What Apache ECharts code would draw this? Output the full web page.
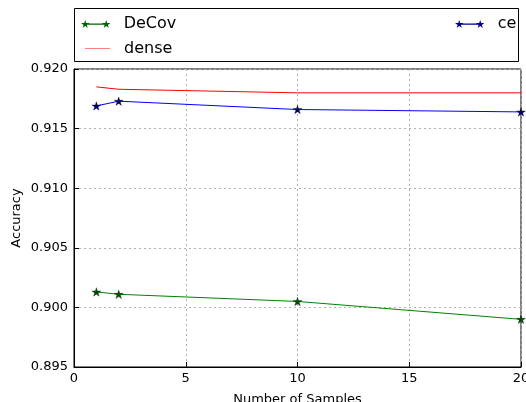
<!DOCTYPE html>
<html>
<head>
<meta charset="utf-8">
<script src="https://cdn.jsdelivr.net/npm/echarts@6/dist/echarts.min.js"></script>
<style>
  html, body { margin: 0; padding: 0; background: #fff; }
  #chart { width: 526px; height: 402px; }
</style>
</head>
<body>
<div id="chart"></div>
<script>
// data
const samples = [1, 2, 10, 20];
const decov = [0.9013, 0.9011, 0.9005, 0.8990];
const ce = [0.9169, 0.9173, 0.9166, 0.9164];
const dense = [0.9185, 0.9183, 0.9180, 0.9180];
const yTicks = ['0.895', '0.900', '0.905', '0.910', '0.915', '0.920'];

const font = 'DejaVu Sans';
// star marker
const starD = 'M10 0 L12.245 6.91 L19.51 6.91 L13.63 11.18 L15.88 18.09 L10 13.82 L4.12 18.09 L6.37 11.18 L0.49 6.91 L7.755 6.91 Z';
const star = 'path://' + starD;
// legend icon: star - line - star
const starLine = 'path://' + starD +
  ' M57.5 0 L59.745 6.91 L67.01 6.91 L61.13 11.18 L63.38 18.09 L57.5 13.82 L51.62 18.09 L53.87 11.18 L47.99 6.91 L55.255 6.91 Z' +
  ' M10 7.9 L57.5 7.9 L57.5 10.9 L10 10.9 Z';
const plainLine = 'path://M0 0 L100 0 L100 2 L0 2 Z';

const pairs = arr => samples.map((x, i) => [x, arr[i]]);
const legendText = { fontFamily: font, fontSize: 16, color: '#000', padding: [0, 0, 0, 8] };

const chart = echarts.init(document.getElementById('chart'));
const option = {
  animation: false,
  grid: { left: 74, right: 5, top: 69, bottom: 35, outerBoundsMode: 'none', containLabel: false,
    show: true, borderColor: '#000', borderWidth: 1 },
  legend: [
    {
      data: [{ name: 'DeCov', icon: starLine, itemStyle: { color: '#006400', borderWidth: 0 } }],
      left: 76, top: 11, itemWidth: 30, itemHeight: 8,
      textStyle: legendText
    },
    {
      data: [{ name: 'dense', icon: plainLine, itemStyle: { color: '#ff0000', borderWidth: 0 } }],
      left: 80, top: 35.5, itemWidth: 25, itemHeight: 1.5,
      textStyle: { fontFamily: font, fontSize: 16, color: '#000', padding: [0, 0, 0, 9] }
    },
    {
      data: [{ name: 'ce', icon: starLine, itemStyle: { color: '#00008b', borderWidth: 0 } }],
      left: 450, top: 11, itemWidth: 30, itemHeight: 8,
      textStyle: legendText
    }
  ],
  graphic: [{
    type: 'rect', shape: { x: 74.5, y: 8.5, width: 444, height: 53 },
    style: { fill: 'none', stroke: '#000', lineWidth: 1 }, silent: true
  }],
  xAxis: {
    type: 'value', min: 0, max: 20, interval: 5,
    name: 'Number of Samples', nameLocation: 'middle', nameGap: 26,
    nameTextStyle: { fontFamily: font, fontSize: 13, color: '#000' },
    axisLine: { lineStyle: { color: '#000' } },
    axisTick: { inside: true, length: 5, lineStyle: { color: '#000' } },
    axisLabel: { fontFamily: font, fontSize: 13, color: '#000', margin: 5 },
    splitLine: { show: true, lineStyle: { color: '#b0b0b0', type: [2, 3] } }
  },
  yAxis: {
    type: 'value', min: 0.895, max: 0.920, interval: 0.005,
    name: 'Accuracy', nameLocation: 'middle', nameGap: 51, nameMoveOverlap: false,
    nameTextStyle: { fontFamily: font, fontSize: 13, color: '#000' },
    axisLine: { show: true, lineStyle: { color: '#000' } },
    axisTick: { show: true, inside: true, length: 5, lineStyle: { color: '#000' } },
    axisLabel: { fontFamily: font, fontSize: 13, color: '#000', margin: 6,
      formatter: v => yTicks.find(t => Math.abs(+t - v) < 1e-6) || v.toFixed(3) },
    splitLine: { show: true, lineStyle: { color: '#b0b0b0', type: [2, 3] } }
  },
  series: [
    {
      name: 'DeCov', type: 'line', data: pairs(decov),
      symbol: star, symbolSize: [9, 8.5], showAllSymbol: true,
      lineStyle: { color: '#008000', width: 1 },
      itemStyle: { color: '#005000', borderColor: '#000', borderWidth: 0.3 }
    },
    {
      name: 'dense', type: 'line', data: pairs(dense),
      symbol: 'none',
      lineStyle: { color: '#ff0000', width: 1 },
      itemStyle: { color: '#ff0000' }
    },
    {
      name: 'ce', type: 'line', data: pairs(ce),
      symbol: star, symbolSize: [9, 8.5], showAllSymbol: true,
      lineStyle: { color: '#0000ff', width: 1 },
      itemStyle: { color: '#000080', borderColor: '#000', borderWidth: 0.3 }
    }
  ]
};
chart.setOption(option);
</script>
</body>
</html>
